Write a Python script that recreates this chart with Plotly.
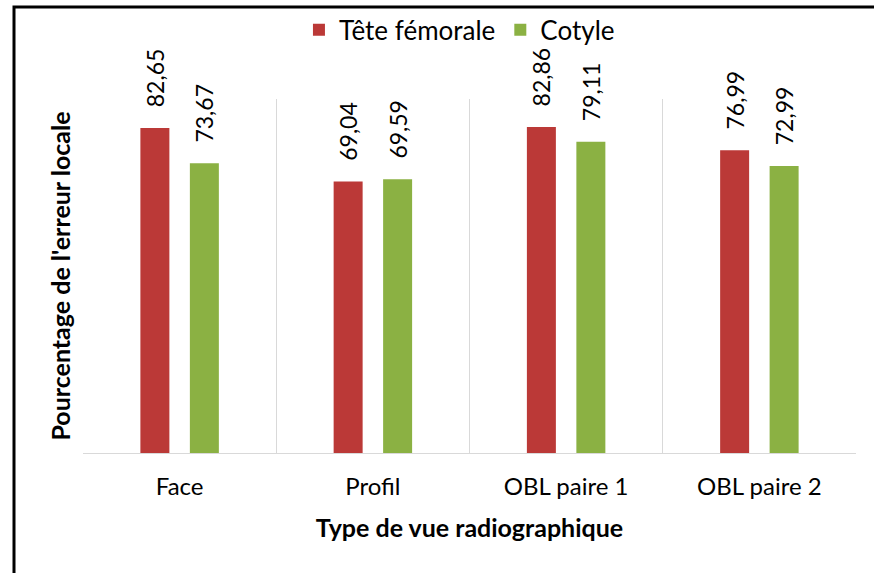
import plotly.graph_objects as go

# Data
categories = ["Face", "Profil", "OBL paire 1", "OBL paire 2"]
tete_femorale = [82.65, 69.04, 82.86, 76.99]
cotyle = [73.67, 69.59, 79.11, 72.99]
series_names = ["Tête fémorale", "Cotyle"]

FONT = "Lato, Carlito, Calibri, sans-serif"
RED = "#bb3937"
GREEN = "#8bb143"
NBSP = "\u00a0"


def fmt(v):
    return f"{v:.2f}".replace(".", ",")


fig = go.Figure()
for name, vals, col in [(series_names[0], tete_femorale, RED),
                        (series_names[1], cotyle, GREEN)]:
    fig.add_trace(go.Bar(
        x=categories, y=vals, name=name,
        marker=dict(color=col, line=dict(width=0)),
        text=[NBSP * 3 + fmt(v) for v in vals],
        textposition="outside", textangle=-90, constraintext="none",
        textfont=dict(family=FONT, size=23, color="#000000"),
        cliponaxis=False,
    ))

fig.update_layout(
    width=874, height=573,
    margin=dict(l=83, r=18, t=99, b=120, autoexpand=False),
    paper_bgcolor="white", plot_bgcolor="white",
    barmode="group", bargap=0.488, bargroupgap=0.414,
    font=dict(family=FONT, size=23, color="#000000"),
    legend=dict(orientation="h", x=0.487, xanchor="center",
                y=1.195, yanchor="middle", bgcolor="rgba(0,0,0,0)",
                font=dict(family=FONT, size=26),
                itemwidth=30, tracegroupgap=0),
    xaxis=dict(showgrid=True, gridcolor="#d9d9d9", gridwidth=1,
               tickson="boundaries", ticks="", ticklabelstandoff=12,
               showline=True, linecolor="#d9d9d9", linewidth=1,
               range=[-0.5, 3.5],
               tickfont=dict(family=FONT, size=24),
               title=dict(text="<b>Type de vue radiographique</b>",
                          font=dict(family=FONT, size=25), standoff=20)),
    yaxis=dict(range=[0, 90], showgrid=False, showticklabels=False,
               zeroline=False, ticks="", showline=False,
               title=dict(text="<b>Pourcentage de l'erreur locale</b>",
                          font=dict(family=FONT, size=25), standoff=4)),
    shapes=[
        # outer black frame
        dict(type="rect", xref="paper", yref="paper",
             x0=(14 - 83) / 773, x1=(890 - 83) / 773,
             y0=(453 - 590) / 354, y1=(453 - 7) / 354,
             line=dict(color="black", width=3), fillcolor="rgba(0,0,0,0)",
             layer="above"),
    ],
)

fig.write_html("out.html")
